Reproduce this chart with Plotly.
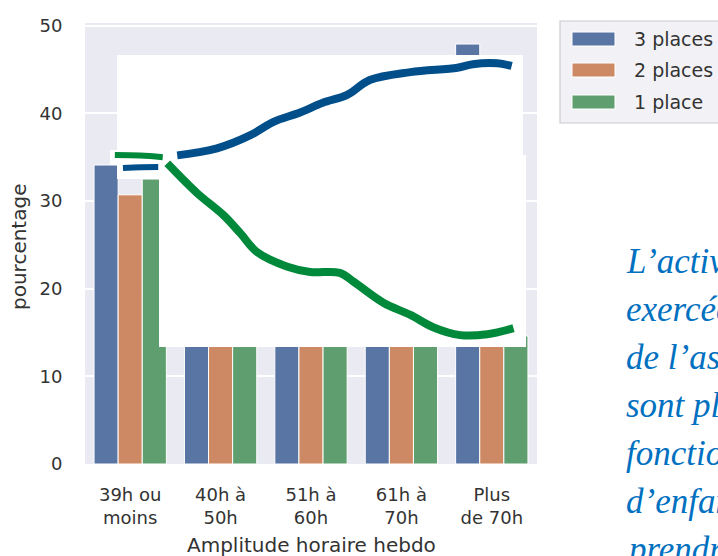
import plotly.graph_objects as go

# ---- data ----
categories = ["39h ou<br>moins", "40h à<br>50h", "51h à<br>60h", "61h à<br>70h", "Plus<br>de 70h"]
series_names = ["3 places", "2 places", "1 place"]
vals_3 = [34.1, 38.5, 41.5, 44.5, 47.9]
vals_2 = [30.7, 33.0, 34.5, 36.0, 37.0]
vals_1 = [32.5, 27.0, 22.5, 18.0, 14.6]
series_values = [vals_3, vals_2, vals_1]
bar_colors = ["#5875a4", "#cc8963", "#5f9e6e"]

# hand-drawn trend strokes (data units: x = category index, y = percentage)
blue_x = [0.52, 0.96, 1.33, 1.58, 1.88, 2.13, 2.40, 2.65, 3.10, 3.62, 3.79, 4.06, 4.22]
blue_y = [35.2, 36.0, 37.5, 39.0, 40.1, 41.2, 42.1, 43.8, 44.7, 45.2, 45.6, 45.7, 45.4]
blue_short_x = [-0.08, 0.12, 0.31]
blue_short_y = [33.75, 33.85, 33.87]
green_x = [0.41, 0.74, 1.03, 1.22, 1.40, 1.74, 1.99, 2.32, 2.47, 2.80, 3.10, 3.35, 3.65, 3.95, 4.24]
green_y = [34.3, 30.9, 28.4, 26.3, 24.2, 22.5, 21.9, 21.8, 20.8, 18.4, 17.0, 15.6, 14.7, 14.8, 15.5]
green_short_x = [-0.17, 0.11, 0.36]
green_short_y = [35.23, 35.18, 35.0]

side_text = ["L’activité", "exercée par", "de l’assistante", "sont plus", "fonction du", "d’enfants", "prendre"]

# ---- geometry helpers (pixel -> axis / paper) ----
L, R, T, B = 85, 537, 23, 464
YMAX = 50.3
def px_x(px):
    return (px - L) / (R - L) * 5 - 0.5
def px_y(py):
    return (B - py) / (B - T) * YMAX
def pap_x(px):
    return (px - L) / (R - L)
def pap_y(py):
    return (B - py) / (B - T)

fig = go.Figure()
xs = list(range(len(categories)))
for name, vals, col in zip(series_names, series_values, bar_colors):
    fig.add_trace(go.Bar(x=xs, y=vals, name=name, marker=dict(color=col, line=dict(color="white", width=1)),
                         showlegend=False))

# white paper overlay
poly_px = [(117, 55), (523, 55), (523, 155), (526, 155), (526, 347), (159, 347), (159, 179),
           (117, 179), (117, 165), (110, 165), (110, 150), (117, 150), (117, 55)]
fig.add_trace(go.Scatter(x=[px_x(p[0]) for p in poly_px], y=[px_y(p[1]) for p in poly_px],
                         fill="toself", fillcolor="white", mode="lines", line=dict(width=0, color="white"),
                         hoverinfo="skip", showlegend=False))

blue_c = "#004f8b"
green_c = "#00893b"
fig.add_trace(go.Scatter(x=blue_x, y=blue_y, mode="lines", line=dict(color=blue_c, width=8, shape="spline"), showlegend=False))
fig.add_trace(go.Scatter(x=blue_short_x, y=blue_short_y, mode="lines", line=dict(color=blue_c, width=6, shape="spline"), showlegend=False))
fig.add_trace(go.Scatter(x=green_x, y=green_y, mode="lines", line=dict(color=green_c, width=8, shape="spline"), showlegend=False))
fig.add_trace(go.Scatter(x=green_short_x, y=green_short_y, mode="lines", line=dict(color=green_c, width=6, shape="spline"), showlegend=False))

txt_col = "#333333"
font_fam = "DejaVu Sans, sans-serif"

shapes = []
annotations = []
# legend box
shapes.append(dict(type="rect", xref="paper", yref="paper", x0=pap_x(560), x1=pap_x(740), y0=pap_y(123), y1=pap_y(21),
                   fillcolor="#f2f2f6", line=dict(color="#cccccc", width=1.2), layer="above"))
leg_y = [39, 70, 102]
for name, col, yy in zip(series_names, bar_colors, leg_y):
    shapes.append(dict(type="rect", xref="paper", yref="paper", x0=pap_x(572), x1=pap_x(615),
                       y0=pap_y(yy + 7), y1=pap_y(yy - 7), fillcolor=col, line=dict(color="white", width=1), layer="above"))
    annotations.append(dict(text=name, xref="paper", yref="paper", x=pap_x(632), y=pap_y(yy), xanchor="left",
                            yanchor="middle", showarrow=False, font=dict(size=19, color=txt_col, family=font_fam)))

# axis titles
annotations.append(dict(text="pourcentage", xref="paper", yref="paper", x=pap_x(19), y=pap_y(247), textangle=-90,
                        xanchor="center", yanchor="middle", showarrow=False,
                        font=dict(size=20, color=txt_col, family=font_fam)))
annotations.append(dict(text="Amplitude horaire hebdo", xref="paper", yref="paper", x=pap_x(311), y=pap_y(545),
                        xanchor="center", yanchor="middle", showarrow=False,
                        font=dict(size=20, color=txt_col, family=font_fam)))

# side text
base = 272
for i, line in enumerate(side_text):
    b = base + i * 48
    annotations.append(dict(text=line, xref="paper", yref="paper", x=pap_x(624), y=pap_y(b - 11),
                            xanchor="left", yanchor="middle", showarrow=False,
                            font=dict(size=35, color="#0070c0", family="Liberation Serif, serif", style="italic")))

fig.update_layout(
    width=718, height=556,
    margin=dict(l=L, r=718 - R, t=T, b=556 - B),
    paper_bgcolor="white", plot_bgcolor="#eaeaf2",
    barmode="group", bargap=0.2, bargroupgap=0,
    showlegend=False,
    shapes=shapes, annotations=annotations,
    font=dict(family=font_fam, color=txt_col),
)
fig.update_xaxes(range=[-0.5, 4.5], tickvals=xs, ticktext=categories, showgrid=False, zeroline=False,
                 ticks="outside", ticklen=14, tickcolor="rgba(0,0,0,0)", tickfont=dict(size=18, color=txt_col))
fig.update_yaxes(range=[0, YMAX], tickvals=[0, 10, 20, 30, 40, 50], showgrid=True, gridcolor="white", gridwidth=1.5,
                 zeroline=False, ticks="outside", ticklen=18, tickcolor="rgba(0,0,0,0)",
                 tickfont=dict(size=18, color=txt_col))

fig.write_html("out.html", config={"displayModeBar": False},
               post_script="document.body.style.margin='0';document.body.style.overflow='hidden';")
